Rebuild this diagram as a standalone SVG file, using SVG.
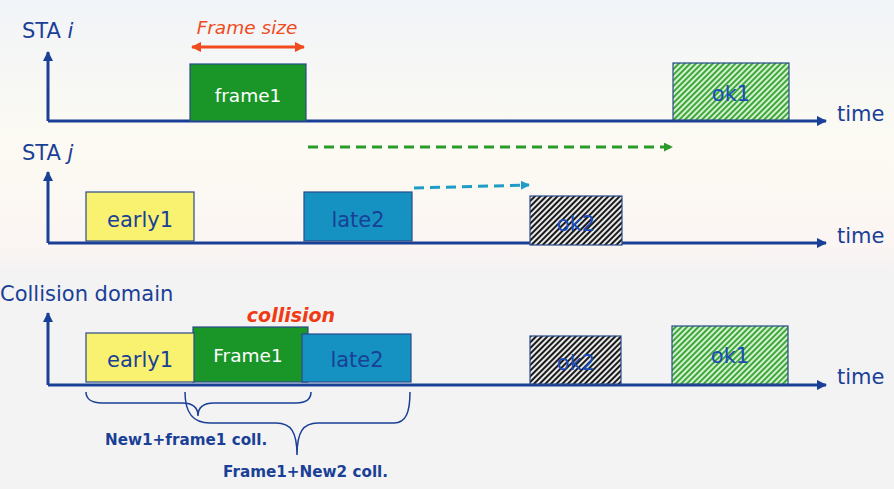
<svg xmlns="http://www.w3.org/2000/svg" width="894" height="489" viewBox="0 0 894 489">
<defs>
<linearGradient id="bg" x1="0" y1="0" x2="0" y2="1">
<stop offset="0" stop-color="#f1f4f8"/>
<stop offset="0.3" stop-color="#fcfaf2"/>
<stop offset="0.5" stop-color="#fbf5f3"/>
<stop offset="0.56" stop-color="#f3f3f3"/>
<stop offset="1" stop-color="#f3f3f3"/>
</linearGradient>
<pattern id="hg" width="4" height="4" patternUnits="userSpaceOnUse" patternTransform="rotate(45)">
<rect width="4" height="4" fill="#d8f0d0"/>
<rect width="2" height="4" fill="#3aa83a"/>
</pattern>
<pattern id="hk" width="4" height="4" patternUnits="userSpaceOnUse" patternTransform="rotate(45)">
<rect width="4" height="4" fill="#e8e8e8"/>
<rect width="2" height="4" fill="#1a1a1a"/>
</pattern>
<marker id="ax" viewBox="0 0 10 10" refX="9" refY="5" markerWidth="3.5" markerHeight="3.5" orient="auto">
<path d="M0,0 L10,5 L0,10 Z" fill="#1a3f96"/>
</marker>
<marker id="ar" viewBox="0 0 10 10" refX="9" refY="5" markerWidth="3.5" markerHeight="3.5" orient="auto-start-reverse">
<path d="M0,0 L10,5 L0,10 Z" fill="#f04a1e"/>
</marker>
<marker id="ag" viewBox="0 0 10 10" refX="9" refY="5" markerWidth="3" markerHeight="3" orient="auto">
<path d="M0,0 L10,5 L0,10 Z" fill="#2a9a2a"/>
</marker>
<marker id="ab" viewBox="0 0 10 10" refX="9" refY="5" markerWidth="3" markerHeight="3" orient="auto">
<path d="M0,0 L10,5 L0,10 Z" fill="#1e9cc8"/>
</marker>
</defs>
<style>
text{font-family:"DejaVu Sans","Verdana",sans-serif;}
.t{fill:#1a3f96;font-size:21px;}
.k{fill:#1a4cb8;font-size:21px;}
.w{fill:#ffffff;font-size:18.5px;}
.ax{stroke:#1a3f96;stroke-width:3;fill:none;marker-end:url(#ax);}
.box{stroke:#2a4a8a;stroke-width:1.2;}
.br{stroke:#1a3f96;stroke-width:1.5;fill:none;}
.lb{fill:#1a3f96;font-size:15.2px;font-weight:bold;}
</style>
<rect width="894" height="489" fill="url(#bg)"/>

<g id="axes">
<text class="t" x="22" y="38">STA <tspan font-style="italic">i</tspan></text>
<path class="ax" d="M48,121 L48,52"/>
<path class="ax" d="M48,121 L826,121"/>
<text class="t" x="837" y="121">time</text>
<text class="t" x="22" y="160">STA <tspan font-style="italic">j</tspan></text>
<path class="ax" d="M48,243 L48,172"/>
<path class="ax" d="M48,243 L826,243"/>
<text class="t" x="837" y="243">time</text>
<text class="t" x="0" y="301">Collision domain</text>
<path class="ax" d="M48,385 L48,313"/>
<path class="ax" d="M48,385 L826,385"/>
<text class="t" x="837" y="384">time</text>
</g>

<g id="frame-size">
<text x="247" y="34" text-anchor="middle" font-size="18.5" font-style="italic" fill="#f04a1e">Frame size</text>
<path d="M192,47 L304,47" stroke="#f04a1e" stroke-width="3" marker-start="url(#ar)" marker-end="url(#ar)"/>
</g>

<g id="frame1">
<rect class="box" x="190" y="64" width="116" height="57" fill="#1a9628"/>
<text class="w" x="248" y="102" text-anchor="middle">frame1</text>
</g>
<g id="ok1-i">
<rect class="box" x="673" y="63" width="116" height="57" fill="url(#hg)"/>
<text class="k" x="731" y="101" text-anchor="middle">ok1</text>
</g>

<g id="early1-j">
<rect class="box" x="86" y="192" width="108" height="49" fill="#f8f270"/>
<text class="t" x="140" y="227" text-anchor="middle">early1</text>
</g>
<g id="late2-j">
<rect class="box" x="304" y="192" width="108" height="49" fill="#1592c2"/>
<text class="t" x="358" y="227" text-anchor="middle">late2</text>
</g>
<g id="ok2-j">
<rect class="box" x="530" y="196" width="92" height="49" fill="url(#hk)"/>
<text class="k" x="576" y="231" text-anchor="middle">ok2</text>
</g>

<g id="connectors">
<path d="M308,147 L672,147" stroke="#2a9a2a" stroke-width="3" stroke-dasharray="10,6" marker-end="url(#ag)"/>
<path d="M414,188 L529,185" stroke="#1e9cc8" stroke-width="3" stroke-dasharray="10,6" marker-end="url(#ab)"/>
</g>

<g id="collision-label">
<text x="291" y="322" text-anchor="middle" font-size="19" font-weight="bold" font-style="italic" fill="#f03a14">collision</text>
</g>
<g id="frame1-c">
<rect class="box" x="193" y="327" width="115" height="55" fill="#1a9628"/>
<text class="w" x="248" y="362" text-anchor="middle">Frame1</text>
</g>
<g id="early1-c">
<rect class="box" x="86" y="333" width="108" height="49" fill="#f8f270"/>
<text class="t" x="140" y="367" text-anchor="middle">early1</text>
</g>
<g id="late2-c">
<rect class="box" x="302" y="334" width="109" height="48" fill="#1592c2"/>
<text class="t" x="357" y="367" text-anchor="middle">late2</text>
</g>
<g id="ok2-c">
<rect class="box" x="530" y="336" width="91" height="48" fill="url(#hk)"/>
<text class="k" x="576" y="370" text-anchor="middle">ok2</text>
</g>
<g id="ok1-c">
<rect class="box" x="672" y="326" width="116" height="58" fill="url(#hg)"/>
<text class="k" x="730" y="363" text-anchor="middle">ok1</text>
</g>

<g id="braces">
<path class="br" d="M86,392 C86,399 92,403 102,403 L182,403 C193,403 198,408 198,416 C198,408 203,403 214,403 L296,403 C306,403 311,399 311,392"/>
<path class="br" d="M185,392 C185,412 192,423 210,423 L276,423 C291,423 297,432 297,455 C297,432 303,423 318,423 L394,423 C406,423 410,412 410,392"/>
<text class="lb" x="105" y="445">New1+frame1 coll.</text>
<text class="lb" x="223" y="477">Frame1+New2 coll.</text>
</g>
</svg>
